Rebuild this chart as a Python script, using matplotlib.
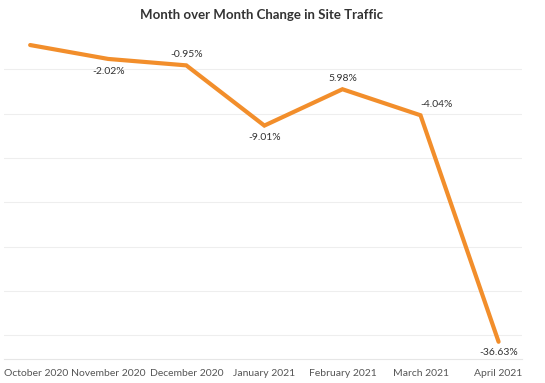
import matplotlib.pyplot as plt
from matplotlib.transforms import ScaledTranslation

# 월별 사이트 방문 수
months = ["October 2020", "November 2020", "December 2020", "January 2021",
          "February 2021", "March 2021", "April 2021"]
visits = [15550, 15236, 15091, 13731, 14552, 13964, 8849]
change_labels = ["", "-2.02%", "-0.95%", "-9.01%", "5.98%", "-4.04%", "-36.63%"]
# 라벨 위치: 점 기준 (dx, dy) 픽셀
label_offsets = [(0, 0), (0, -13), (0, 11), (0, -12), (0, 11), (16, 11), (0, -11)]
grid_values = [9000, 10000, 11000, 12000, 13000, 14000, 15000]

plt.rcParams['font.family'] = ['Lato', 'DejaVu Sans']

fig = plt.figure(figsize=(5.45, 3.83), dpi=100)
ax = fig.add_axes([4 / 545, 1 - 359 / 383, 518 / 545, (359 - 26) / 383])

x = list(range(len(months)))
ax.plot(x, visits, color='#F28E2B', linewidth=3.0, solid_joinstyle='miter',
        solid_capstyle='round')

for xi, v, lab, (dx, dy) in zip(x, visits, change_labels, label_offsets):
    if lab:
        ax.annotate(lab, (xi, v), xytext=(dx, dy), textcoords='offset pixels',
                    ha='center', va='center', fontsize=7.5, color='#333333')

ax.set_xlim(-0.335, 6.3)
ax.set_ylim(8460, 15980)
ax.set_yticks(grid_values)
ax.set_yticklabels([])
ax.tick_params(axis='y', length=0)
ax.grid(axis='y', color='#eeeeee', linewidth=0.8)
ax.set_axisbelow(True)

ax.set_xticks(x)
ax.set_xticklabels(months, fontsize=7.5, color='#555555')
ax.tick_params(axis='x', length=0, pad=7)
# 첫 라벨이 잘리지 않도록 오른쪽으로 조금 이동
first = ax.get_xticklabels()[0]
first.set_transform(first.get_transform() + ScaledTranslation(6 / 100, 0, fig.dpi_scale_trans))

for s in ['top', 'right', 'left']:
    ax.spines[s].set_visible(False)
ax.spines['bottom'].set_color('#e6e6e6')
ax.spines['bottom'].set_linewidth(0.8)

fig.text(262 / 545, 1 - 15 / 383, "Month over Month Change in Site Traffic",
         ha='center', va='center', fontsize=9.5, fontweight='bold', color='#333333')

plt.savefig("out.png", dpi=100)
